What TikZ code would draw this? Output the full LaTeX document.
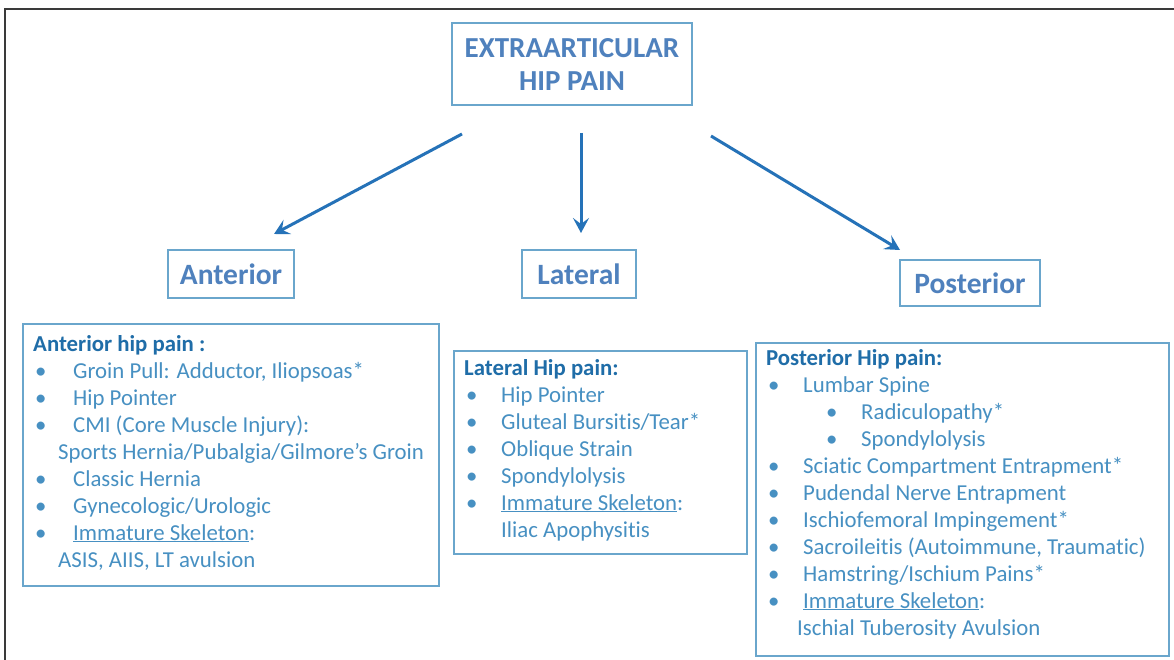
\documentclass[tikz,border=0pt]{standalone}
\usepackage{fontspec}
\setmainfont{Carlito}[Ligatures={NoCommon}]
\usetikzlibrary{arrows.meta}
\definecolor{titleblue}{HTML}{4F81BD}
\definecolor{boxline}{HTML}{6AA6CC}
\definecolor{arrowblue}{HTML}{2572B8}
\definecolor{headblue}{HTML}{1F6DA8}
\definecolor{itemblue}{HTML}{4790C2}
\definecolor{framegray}{HTML}{3A3A3A}
\tikzset{
  boxstyle/.style={draw=boxline, line width=1.5pt, rectangle, inner sep=0pt},
  labelbox/.style={boxstyle, font=\fontsize{29.5}{33}\selectfont\bfseries, text=titleblue},
  arr/.style={draw=arrowblue, line width=3pt, -{Stealth[length=15pt,width=16pt,inset=6pt]}},
  head/.style={anchor=base west, inner sep=0pt, font=\fontsize{22.8}{27}\selectfont\bfseries, text=headblue},
  item/.style={anchor=base west, inner sep=0pt, font=\fontsize{22.8}{27}\selectfont, text=itemblue},
  bul/.style={anchor=base west, inner sep=0pt, font=\fontsize{22.8}{27}\selectfont, text=itemblue},
}
\begin{document}
\begin{tikzpicture}[x=1pt,y=-1pt]
\useasboundingbox (0,0) rectangle (1174,660);
\fill[white] (0,0) rectangle (1174,660);
% outer frame
\draw[framegray, line width=1.3pt] (5,660) -- (5,9) -- (1174,9);

% title
\node[boxstyle, minimum width=240pt, minimum height=82pt, align=center,
  font=\fontsize{29}{33}\selectfont\bfseries, text=titleblue] (top) at (572,64)
  {EXTRAARTICULAR\\HIP PAIN};

% category labels
\node[labelbox, minimum width=126pt, minimum height=48pt] (ant) at (231,274) {Anterior};
\node[labelbox, minimum width=114pt, minimum height=48pt] (lat) at (579,274) {Lateral};
\node[labelbox, minimum width=140pt, minimum height=46pt] (post) at (970,283) {Posterior};

% arrows
\coordinate (a1s) at (462,134); \coordinate (a1e) at (274,234);
\coordinate (a2s) at (581,133); \coordinate (a2e) at (581,233);
\coordinate (a3s) at (711,136); \coordinate (a3e) at (900,250);
\draw[arr] (a1s) -- (a1e);
\draw[arr] (a2s) -- (a2e);
\draw[arr] (a3s) -- (a3e);

% list boxes
\node[boxstyle, anchor=north west, minimum width=416pt, minimum height=262pt] (antbox) at (22,323) {};
\node[boxstyle, anchor=north west, minimum width=293pt, minimum height=203pt] (latbox) at (453,350) {};
\node[boxstyle, anchor=north west, minimum width=413pt, minimum height=313pt] (postbox) at (755,342) {};

% anterior list
\node[head] (ah) at (33,351) {Anterior hip pain :};
\foreach \y/\n in {378/ab1,405/ab2,432/ab3,486/ab4,513/ab5,540/ab6}
  \node[bul] (\n) at (35,\y) {•};
\node[item] (a1) at (73,378) {Groin Pull: Adductor, Iliopsoas*};
\node[item] (a2) at (73,405) {Hip Pointer};
\node[item] (a3) at (73,432) {CMI (Core Muscle Injury):};
\node[item] (a4) at (58,459) {Sports Hernia/Pubalgia/Gilmore’s Groin};
\node[item] (a5) at (73,486) {Classic Hernia};
\node[item] (a6) at (73,513) {Gynecologic/Urologic};
\node[item] (a7) at (73,540) {\underline{Immature Skeleton}:};
\node[item] (a8) at (58,567) {ASIS, AIIS, LT avulsion};

% lateral list
\node[head] (lh) at (464,375) {Lateral Hip pain:};
\foreach \y/\n in {402/lb1,429/lb2,456/lb3,483/lb4,510/lb5}
  \node[bul] (\n) at (466,\y) {•};
\node[item] (l1) at (501,402) {Hip Pointer};
\node[item] (l2) at (501,429) {Gluteal Bursitis/Tear*};
\node[item] (l3) at (501,456) {Oblique Strain};
\node[item] (l4) at (501,483) {Spondylolysis};
\node[item] (l5) at (501,510) {\underline{Immature Skeleton}:};
\node[item] (l6) at (501,537) {Iliac Apophysitis};

% posterior list
\node[head] (ph) at (766,365) {Posterior Hip pain:};
\foreach \y/\n in {392/pb1,473/pb4,500/pb5,527/pb6,554/pb7,581/pb8,608/pb9}
  \node[bul] (\n) at (768,\y) {•};
\foreach \y/\n in {419/pb2,446/pb3}
  \node[bul] (\n) at (826,\y) {•};
\node[item] (p1) at (803,392) {Lumbar Spine};
\node[item] (p2) at (861,419) {Radiculopathy*};
\node[item] (p3) at (861,446) {Spondylolysis};
\node[item] (p4) at (803,473) {Sciatic Compartment Entrapment*};
\node[item] (p5) at (803,500) {Pudendal Nerve Entrapment};
\node[item] (p6) at (803,527) {Ischiofemoral Impingement*};
\node[item] (p7) at (803,554) {Sacroileitis (Autoimmune, Traumatic)};
\node[item] (p8) at (803,581) {Hamstring/Ischium Pains*};
\node[item] (p9) at (803,608) {\underline{Immature Skeleton}:};
\node[item] (p10) at (797,635) {Ischial Tuberosity Avulsion};
\end{tikzpicture}
\end{document}
